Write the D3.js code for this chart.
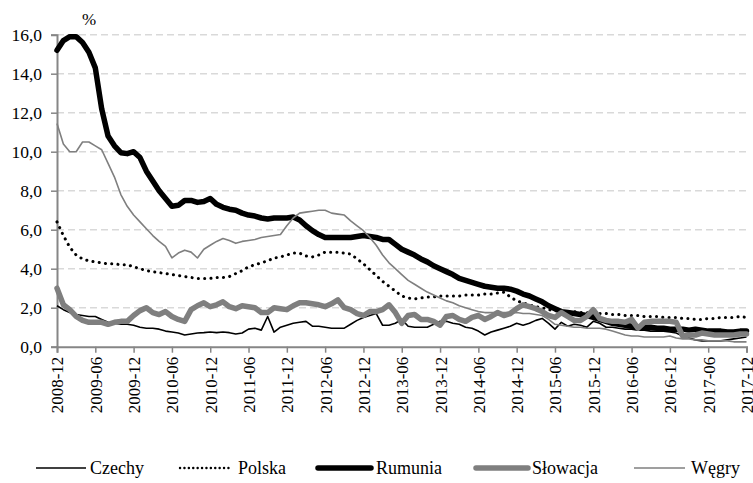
<!DOCTYPE html>
<html><head><meta charset="utf-8">
<script src="https://cdn.jsdelivr.net/npm/d3@7"></script>
</head>
<body style="margin:0">
<svg id="c" width="753" height="483"></svg>
<script>
const tickLabels = ["2008-12","2009-06","2009-12","2010-06","2010-12","2011-06","2011-12","2012-06","2012-12","2013-06","2013-12","2014-06","2014-12","2015-06","2015-12","2016-06","2016-12","2017-06","2017-12"];
const yTicks = [0,2,4,6,8,10,12,14,16];
const seriesNames = ["Czechy","Polska","Rumunia","Słowacja","Węgry"];

const czechy = [2.1,1.9,1.75,1.65,1.6,1.55,1.55,1.4,1.25,1.2,1.15,1.15,1.1,1.0,0.95,0.95,0.9,0.8,0.75,0.7,0.6,0.65,0.7,0.72,0.75,0.72,0.75,0.72,0.65,0.7,0.9,0.95,0.85,1.55,0.75,1.0,1.1,1.2,1.25,1.3,1.05,1.05,1.0,0.95,0.95,0.95,1.15,1.35,1.5,1.6,1.7,1.1,1.1,1.2,1.4,1.05,1.0,1.0,1.0,1.15,1.3,1.3,1.2,1.15,1.0,0.95,0.8,0.6,0.75,0.85,0.95,1.05,1.2,1.1,1.2,1.35,1.45,1.2,0.9,1.25,1.05,1.15,1.1,1.0,1.3,1.2,1.0,1.0,0.95,0.9,0.9,0.85,0.85,0.8,0.8,0.8,0.75,0.7,0.55,0.45,0.35,0.3,0.3,0.3,0.3,0.35,0.4,0.45,0.5];
const polska = [6.4,5.7,5.1,4.7,4.5,4.4,4.35,4.3,4.25,4.25,4.2,4.2,4.1,4.0,3.9,3.85,3.8,3.75,3.7,3.65,3.6,3.55,3.5,3.5,3.5,3.55,3.55,3.6,3.75,3.9,4.1,4.2,4.3,4.4,4.55,4.6,4.7,4.8,4.8,4.65,4.6,4.7,4.85,4.85,4.85,4.8,4.75,4.5,4.25,3.95,3.65,3.35,3.1,2.85,2.6,2.5,2.45,2.5,2.55,2.55,2.6,2.6,2.6,2.6,2.65,2.65,2.65,2.7,2.7,2.75,2.8,2.55,2.35,2.25,2.15,2.05,2.0,1.9,1.85,1.8,1.8,1.8,1.75,1.75,1.7,1.7,1.7,1.65,1.65,1.6,1.6,1.6,1.55,1.55,1.55,1.5,1.5,1.5,1.45,1.45,1.4,1.4,1.45,1.45,1.5,1.5,1.5,1.55,1.5];
const rumunia = [15.2,15.7,15.9,15.9,15.6,15.1,14.3,12.2,10.8,10.3,9.95,9.9,10.0,9.7,9.0,8.5,8.0,7.6,7.2,7.25,7.5,7.5,7.4,7.45,7.6,7.3,7.15,7.05,7.0,6.85,6.75,6.7,6.6,6.55,6.6,6.6,6.6,6.65,6.5,6.2,5.95,5.75,5.6,5.6,5.6,5.6,5.6,5.65,5.7,5.65,5.6,5.5,5.5,5.25,5.0,4.85,4.7,4.5,4.35,4.15,4.0,3.85,3.7,3.5,3.4,3.3,3.2,3.1,3.05,3.0,3.0,2.95,2.85,2.7,2.6,2.45,2.3,2.1,1.95,1.8,1.75,1.7,1.65,1.6,1.5,1.4,1.3,1.2,1.15,1.1,1.05,1.0,1.0,1.0,0.95,0.95,0.9,0.9,0.9,0.85,0.9,0.85,0.8,0.8,0.8,0.75,0.75,0.8,0.8];
const slowacja = [3.0,2.15,1.9,1.55,1.35,1.25,1.25,1.25,1.15,1.25,1.3,1.3,1.6,1.85,2.0,1.75,1.65,1.8,1.55,1.4,1.3,1.9,2.1,2.25,2.05,2.15,2.3,2.05,1.95,2.1,2.05,2.0,1.75,1.75,2.0,1.95,1.9,2.1,2.25,2.25,2.2,2.15,2.05,2.2,2.4,2.0,1.9,1.7,1.6,1.8,1.8,1.9,2.15,1.75,1.2,1.6,1.65,1.4,1.4,1.3,1.1,1.55,1.6,1.4,1.3,1.5,1.6,1.4,1.55,1.75,1.6,1.7,1.95,2.15,2.05,1.95,1.8,1.6,1.5,1.75,1.55,1.35,1.35,1.55,1.9,1.45,1.35,1.3,1.3,1.25,1.4,0.95,1.25,1.3,1.3,1.3,1.3,1.25,0.55,0.6,0.6,0.7,0.65,0.6,0.6,0.6,0.6,0.65,0.65];
const wegry = [11.45,10.4,10.0,10.0,10.5,10.5,10.3,10.1,9.4,8.7,7.8,7.2,6.75,6.4,6.05,5.7,5.4,5.15,4.55,4.8,4.95,4.85,4.55,5.0,5.2,5.4,5.55,5.45,5.3,5.4,5.45,5.5,5.6,5.65,5.7,5.75,6.2,6.6,6.85,6.9,6.95,7.0,7.0,6.85,6.8,6.75,6.45,6.2,5.95,5.6,5.2,4.7,4.3,4.0,3.7,3.4,3.2,3.0,2.8,2.65,2.5,2.35,2.25,2.1,2.0,1.9,1.8,1.75,1.75,1.75,1.75,1.75,1.75,1.7,1.7,1.65,1.6,1.4,1.15,1.1,1.05,1.0,1.0,0.95,0.95,0.95,0.9,0.8,0.7,0.6,0.55,0.55,0.5,0.5,0.5,0.5,0.55,0.45,0.4,0.4,0.35,0.35,0.3,0.3,0.3,0.3,0.25,0.25,0.25];

const seriesValues = [czechy, polska, rumunia, slowacja, wegry];
const styles = [
  {color:"#000", width:1.6, dash:null, cap:"butt"},
  {color:"#000", width:3, dash:"0.1,6.2", cap:"round"},
  {color:"#000", width:5.5, dash:null, cap:"round"},
  {color:"#7f7f7f", width:5.5, dash:null, cap:"round"},
  {color:"#7f7f7f", width:1.6, dash:null, cap:"butt"}
];
const FONT = "'Liberation Serif'";

const svg = d3.select("#c").style("font-family",FONT);
const x = d3.scaleLinear().domain([0,108]).range([57,746.5]);
const y = d3.scaleLinear().domain([0,16]).range([346.7,34.7]);

function serif(sel, size){
  sel.attr("font-family","Liberation Serif").style("font-family",FONT).style("font-size",size+"px").attr("fill","#000");
  return sel;
}

// gridlines
svg.append("g").selectAll("line").data(yTicks.filter(d=>d>0)).join("line")
  .attr("x1",57).attr("x2",746).attr("y1",d=>y(d)).attr("y2",d=>y(d))
  .attr("stroke","#d9d9d9").attr("stroke-width",1.5).attr("stroke-dasharray","7,4");

// y axis
const yAxis = d3.axisLeft(y).tickValues(yTicks).tickSize(6).tickFormat(d=>d3.format(".1f")(d).replace(".",","));
const gy = svg.append("g").attr("transform","translate(57,0)").call(yAxis);
gy.attr("font-family","Liberation Serif").attr("font-size",null);
gy.select(".domain").attr("stroke","#868686").attr("stroke-width",2);
gy.selectAll(".tick line").attr("stroke","#868686").attr("stroke-width",1.5);
serif(gy.selectAll(".tick text").attr("x",-15), 17.5);

// x axis
const xAxis = d3.axisBottom(x).tickValues(d3.range(0,109,6)).tickSize(6).tickFormat((d,i)=>tickLabels[i]);
const gx = svg.append("g").attr("transform","translate(0,346.7)").call(xAxis);
gx.attr("font-family","Liberation Serif").attr("font-size",null);
gx.select(".domain").attr("stroke","#868686").attr("stroke-width",2);
gx.selectAll(".tick line").attr("stroke","#868686").attr("stroke-width",1.5);
serif(gx.selectAll(".tick text"), 17)
  .attr("transform","rotate(-90)")
  .attr("text-anchor","end").attr("dy","0.35em").attr("y",0).attr("x",-10);

// % label
serif(svg.append("text").attr("x",89).attr("y",25).attr("text-anchor","middle"), 17).text("%");

// lines
const line = d3.line().x((d,i)=>x(i)).y(d=>y(d));
seriesValues.forEach((vals,k)=>{
  const s = styles[k];
  const p = svg.append("path").datum(vals).attr("d",line)
    .attr("fill","none").attr("stroke",s.color).attr("stroke-width",s.width)
    .attr("stroke-linejoin","round").attr("stroke-linecap",s.cap);
  if(s.dash) p.attr("stroke-dasharray",s.dash);
});

// legend
const legendPos = [{x1:36,x2:86,tx:90},{x1:180,x2:231,tx:238},{x1:318,x2:371,tx:376},{x1:476,x2:528,tx:532},{x1:634,x2:685,tx:691}];
const lg = svg.append("g");
seriesNames.forEach((n,k)=>{
  const s = styles[k], p = legendPos[k];
  const l = lg.append("line").attr("x1",p.x1).attr("x2",p.x2).attr("y1",468).attr("y2",468)
    .attr("stroke",s.color).attr("stroke-width",s.width).attr("stroke-linecap",s.cap);
  if(s.dash) l.attr("stroke-dasharray","0.1,4.3").attr("stroke-width",2.4);
  serif(lg.append("text").attr("x",p.tx).attr("y",474), 18).text(n);
});
</script></body></html>
